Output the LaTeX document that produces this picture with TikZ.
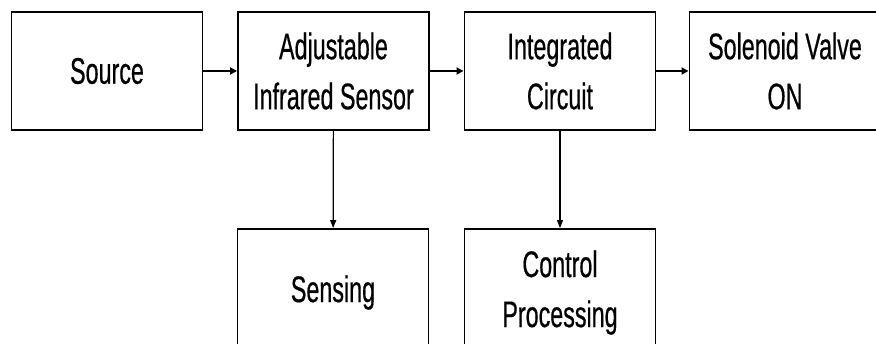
\documentclass[tikz,border=0pt]{standalone}
\usepackage{fontspec}
\newfontfamily\labfont{Liberation Sans}[FakeStretch=0.63,FakeBold=0.5]
\usetikzlibrary{arrows.meta}
\begin{document}
\begin{tikzpicture}[x=1pt,y=-1pt,
  blockbox/.style={draw=black,line width=1.9pt,minimum width=191pt,minimum height=118pt,inner sep=0pt,
    align=center,font=\labfont\fontsize{37}{50}\selectfont},
  lowbox/.style={blockbox,minimum height=127pt},
  hconn/.style={line width=2.4pt,-{Triangle[length=7pt,width=7pt]}},
  vconn/.style={line width=1.2pt,-{Triangle[length=8pt,width=6pt]}}]
\useasboundingbox (0,0) rectangle (876,344);
\node[blockbox] (src) at (107,71) {Source};
\node[blockbox] (ais) at (333.5,71) {Adjustable\\Infrared Sensor};
\node[blockbox] (ic) at (560,71) {Integrated\\Circuit};
\node[blockbox] (sv) at (785,71) {Solenoid Valve\\ON};
\node[lowbox] (sen) at (333,292.5) {Sensing};
\node[lowbox] (cp) at (560,292.5) {Control\\Processing};
\draw[hconn] (src) -- (ais);
\draw[hconn] (ais) -- (ic);
\draw[hconn] (ic) -- (sv);
\draw[vconn] (ais) -- (sen);
\draw[vconn] (ic) -- (cp);
\end{tikzpicture}
\end{document}
